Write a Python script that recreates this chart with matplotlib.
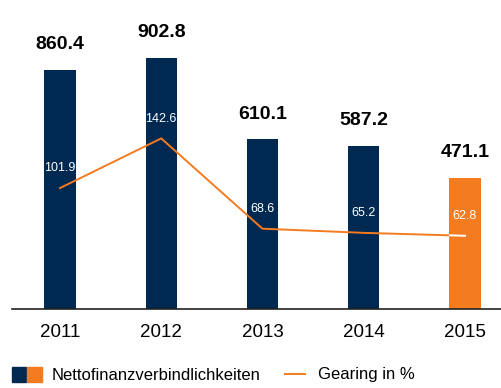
import matplotlib
matplotlib.use("Agg")
import matplotlib.pyplot as plt
from matplotlib.lines import Line2D
from matplotlib.patches import Rectangle

years = ["2011", "2012", "2013", "2014", "2015"]
net_debt = [860.4, 902.8, 610.1, 587.2, 471.1]
gearing = [101.9, 142.6, 68.6, 65.2, 62.8]

navy = "#002952"
orange = "#f47b20"
font = ["Liberation Sans Narrow", "Liberation Sans", "DejaVu Sans"]
plt.rcParams["font.family"] = font

fig = plt.figure(figsize=(5.01, 3.88), dpi=100)
ax = fig.add_axes([12 / 501, 79 / 388, 489 / 501, 309 / 388])
x = list(range(len(years)))
colors = [navy] * 4 + [orange]
bars = ax.bar(x, net_debt, width=0.31, color=colors, zorder=2)

ax.set_xlim(-0.474, 4.356)
ax.set_ylim(0, 1111)
for s in ["top", "right", "left"]:
    ax.spines[s].set_visible(False)
ax.spines["bottom"].set_color("#222222")
ax.spines["bottom"].set_linewidth(1.2)
ax.set_yticks([])
ax.set_xticks(x)
ax.set_xticklabels(years, fontsize=13.5)
ax.tick_params(axis="x", length=0, pad=11)

for xi, v in zip(x, net_debt):
    ax.annotate(f"{v:.1f}", (xi, v), xytext=(0, 12), textcoords="offset points",
                ha="center", va="bottom", fontsize=14, fontweight="bold")

# gearing on a second scale
ax2 = ax.twinx()
ax2.set_ylim(2.8, 256)
ax2.axis("off")
ax2.plot(x, gearing, color=orange, lw=1.4, zorder=3)
# white part of the line inside the orange bar
wl, = ax2.plot(x, gearing, color="white", lw=1.4, zorder=4)
b = bars[-1]
clip = Rectangle((b.get_x(), 0), b.get_width(), b.get_height(),
                 transform=ax.transData)
wl.set_clip_path(clip)
for xi, v in zip(x, gearing):
    ax2.annotate(f"{v:.1f}", (xi, v), xytext=(0, 10), textcoords="offset points",
                 ha="center", va="bottom", fontsize=9, color="white")

# legend
fig.patches.append(Rectangle((12 / 501, 6 / 388), 14 / 501, 15 / 388,
                             transform=fig.transFigure, color=navy))
fig.patches.append(Rectangle((27 / 501, 6 / 388), 15 / 501, 15 / 388,
                             transform=fig.transFigure, color=orange))
fig.text(52 / 501, 13 / 388, "Nettofinanzverbindlichkeiten", fontsize=12, va="center")
fig.lines.append(Line2D([285 / 501, 305 / 501], [14 / 388, 14 / 388],
                        transform=fig.transFigure, color=orange, lw=1.4))
fig.text(318 / 501, 13 / 388, "Gearing in %", fontsize=12, va="center")

fig.savefig("out.png", dpi=100)
